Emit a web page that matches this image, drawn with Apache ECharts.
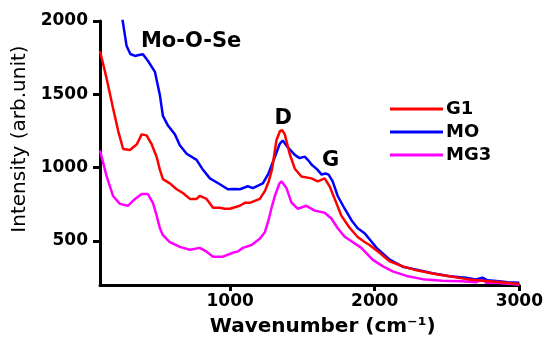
<!DOCTYPE html>
<html>
<head>
<meta charset="utf-8">
<script src="https://cdn.jsdelivr.net/npm/echarts@6/dist/echarts.min.js"></script>
<style>
html,body{margin:0;padding:0;background:#fff;}
#chart{width:546px;height:342px;}
</style>
</head>
<body>
<div id="chart"></div>
<script>
// ---- data ----
const seriesNames = ['G1', 'MO', 'MG3'];
const xTickValues = [1000, 2000, 3000];
const yTickValues = [500, 1000, 1500, 2000];

const g1Wn  = [100,146,190,225,260,307,355,388,422,457,492,514,535,583,630,673,722,768,790,837,882,929,963,998,1067,1101,1136,1205,1240,1265,1290,1320,1345,1360,1378,1412,1447,1493,1562,1606,1654,1688,1723,1769,1826,1882,1930,1964,2033,2103,2193,2289,2427,2517,2635,2745,2862,3000];
const g1Int = [1795,1607,1407,1253,1127,1120,1160,1227,1220,1160,1073,987,922,893,853,827,787,787,807,787,727,727,720,720,740,760,760,787,840,900,990,1187,1250,1255,1227,1093,993,940,927,907,927,873,787,673,590,527,493,473,420,362,327,300,273,260,240,229,220,207];

const moWn  = [245,257,284,310,342,370,397,431,480,514,535,570,618,652,699,768,811,860,929,984,1030,1067,1122,1157,1226,1265,1309,1343,1364,1398,1447,1480,1516,1540,1564,1600,1633,1660,1681,1709,1744,1792,1840,1882,1930,2013,2103,2193,2290,2400,2517,2630,2700,2745,2780,2860,2920,3000];
const moInt = [2075,2000,1829,1775,1762,1768,1773,1729,1653,1495,1353,1287,1227,1153,1095,1053,987,927,887,853,855,853,873,860,893,960,1073,1162,1185,1140,1087,1065,1075,1050,1020,990,953,960,953,907,807,720,640,587,553,453,373,325,305,280,260,250,238,250,232,225,218,215];

const mg3Wn  = [100,146,190,238,293,342,388,431,466,492,514,535,583,652,722,790,837,882,950,1019,1053,1088,1148,1205,1240,1265,1290,1309,1340,1355,1389,1424,1467,1527,1585,1654,1700,1744,1792,1847,1907,1985,2054,2124,2220,2330,2468,2600,2700,2745,2770,2862,3000];
const mg3Int = [1118,940,807,753,740,787,820,820,760,673,587,540,493,460,440,453,427,393,393,420,429,453,473,515,560,640,740,807,890,907,862,762,720,740,707,693,653,587,529,493,453,373,329,293,262,240,229,225,218,240,215,213,202];

const annotations = [
  { text: 'Mo-O-Se', wn: 730, val: 1860 },
  { text: 'D', wn: 1367, val: 1335 },
  { text: 'G', wn: 1695, val: 1048 }
];

const colors = ['#ff0000', '#0000ff', '#ff00ff'];
const FONT = 'DejaVu Sans';

function pairs(xs, ys) { return xs.map((x, i) => [x, ys[i]]); }

const seriesData = [pairs(g1Wn, g1Int), pairs(moWn, moInt), pairs(mg3Wn, mg3Int)];

const chart = echarts.init(document.getElementById('chart'));

const series = seriesNames.map((name, i) => ({
  name: name,
  type: 'line',
  data: seriesData[i],
  showSymbol: false,
  symbol: 'none',
  smooth: false,
  clip: true,
  lineStyle: { color: colors[i], width: 2.5 },
  itemStyle: { color: colors[i] },
  z: 3 - i
}));

// annotations via markPoint on first series (positioned through the axes)
series[0].markPoint = {
  symbol: 'circle',
  symbolSize: 1,
  itemStyle: { color: 'rgba(0,0,0,0)' },
  label: {
    show: true,
    position: 'inside',
    color: '#000',
    fontFamily: FONT,
    fontWeight: 'bold',
    fontSize: 21,
    formatter: p => p.name
  },
  data: annotations.map(a => ({ name: a.text, coord: [a.wn, a.val] }))
};

const plainNum = v => String(v);

chart.setOption({
  animation: false,
  backgroundColor: '#fff',
  grid: { left: 100, right: 26, top: 21, bottom: 51, containLabel: false },
  legend: {
    orient: 'vertical',
    left: 390,
    top: 100,
    padding: 0,
    itemWidth: 53,
    itemHeight: 3,
    itemGap: 5,
    icon: 'rect',
    data: seriesNames,
    textStyle: {
      fontFamily: FONT, fontWeight: 'bold', fontSize: 18, color: '#000',
      lineHeight: 18, padding: [0, 0, 0, -2]
    }
  },
  xAxis: {
    type: 'value',
    min: 100,
    max: 3000,
    name: 'Wavenumber (cm⁻¹)',
    nameLocation: 'middle',
    nameGap: 32,
    nameTextStyle: {
      fontFamily: FONT, fontWeight: 'bold', fontSize: 20, color: '#000',
      padding: [0, 0, 0, 26]
    },
    axisLine: { show: true, lineStyle: { color: '#000', width: 3 } },
    axisTick: { show: true, inside: false, length: 6, lineStyle: { color: '#000', width: 3 }, customValues: xTickValues },
    axisLabel: {
      show: true, margin: 8, color: '#000', fontFamily: FONT, fontWeight: 'bold', fontSize: 17,
      customValues: xTickValues, formatter: plainNum
    },
    splitLine: { show: false }
  },
  yAxis: {
    type: 'value',
    min: 200,
    max: 2000,
    name: 'Intensity (arb.unit)',
    nameLocation: 'middle',
    nameGap: 52,
    nameTextStyle: {
      fontFamily: FONT, fontWeight: 'normal', fontSize: 20, color: '#000',
      padding: [0, 0, 0, 28]
    },
    axisLine: { show: true, onZero: false, lineStyle: { color: '#000', width: 3 } },
    axisTick: { show: true, inside: false, length: 7, lineStyle: { color: '#000', width: 3 }, customValues: yTickValues },
    axisLabel: {
      show: true, margin: 12, color: '#000', fontFamily: FONT, fontWeight: 'bold', fontSize: 17,
      customValues: yTickValues, formatter: plainNum
    },
    splitLine: { show: false }
  },
  series: series
});
</script>
</body>
</html>
